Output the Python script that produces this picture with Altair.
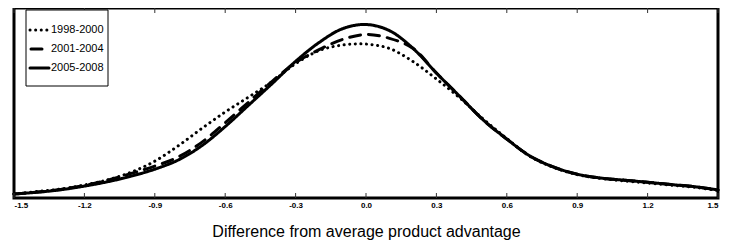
import altair as alt
import pandas as pd

periods = ["1998-2000", "2001-2004", "2005-2008"]

x_grid = [-1.5, -1.4, -1.3, -1.2, -1.1, -1.0, -0.9, -0.8, -0.7, -0.6, -0.5,
          -0.4, -0.3, -0.2, -0.1, 0.0, 0.1, 0.2, 0.3, 0.4, 0.5,
          0.6, 0.7, 0.8, 0.9, 1.0, 1.1, 1.2, 1.3, 1.4, 1.5]

dens_1998 = [0.021, 0.034, 0.047, 0.068, 0.095, 0.135, 0.192, 0.272, 0.362, 0.448, 0.526,
             0.606, 0.700, 0.768, 0.797, 0.802, 0.779, 0.711, 0.620, 0.521, 0.411,
             0.310, 0.216, 0.159, 0.122, 0.102, 0.089, 0.078, 0.067, 0.056, 0.039]

dens_2001 = [0.021, 0.031, 0.045, 0.066, 0.093, 0.128, 0.166, 0.214, 0.290, 0.392, 0.500,
             0.608, 0.705, 0.773, 0.826, 0.852, 0.832, 0.780, 0.651, 0.529, 0.406,
             0.307, 0.218, 0.161, 0.124, 0.104, 0.093, 0.082, 0.070, 0.059, 0.042]

dens_2005 = [0.021, 0.030, 0.043, 0.062, 0.085, 0.114, 0.150, 0.198, 0.272, 0.372, 0.484,
             0.596, 0.712, 0.810, 0.882, 0.904, 0.872, 0.780, 0.651, 0.529, 0.406,
             0.307, 0.218, 0.161, 0.124, 0.104, 0.093, 0.082, 0.070, 0.059, 0.042]

tick_values = [-1.5, -1.2, -0.9, -0.6, -0.3, 0.0, 0.3, 0.6, 0.9, 1.2, 1.5]
axis_title = "Difference from average product advantage"
dash_patterns = [[0.1, 5.5], [11, 8], [1, 0]]

rows = []
for p, d in zip(periods, [dens_1998, dens_2001, dens_2005]):
    for xv, yv in zip(x_grid, d):
        rows.append({"period": p, "x": xv, "density": yv})
df = pd.DataFrame(rows)
tdf = pd.DataFrame({"tick": tick_values})
one = pd.DataFrame({"a": [0]})

sans = "'Liberation Sans', Arial, sans-serif"

xscale = alt.Scale(domain=[-1.5, 1.5], nice=False, zero=False)
yscale = alt.Scale(domain=[0, 0.99], nice=False, zero=False)
dash_scale = alt.Scale(domain=periods, range=dash_patterns)

xaxis = alt.Axis(values=tick_values, format=".1f",
                 labelExpr="replace(datum.label, '\u2212', '-')",
                 title=axis_title, ticks=False, domain=False, grid=False,
                 labelFont=sans, labelFontSize=8, labelFontWeight="bold",
                 labelColor="black", labelPadding=3, labelFlush=True,
                 titleFont=sans, titleFontSize=16,
                 titleFontWeight="normal", titleColor="black", titlePadding=14)

lines = alt.Chart(df).mark_line(color="black", strokeWidth=3, strokeCap="round",
                                interpolate="catmull-rom").encode(
    x=alt.X("x:Q", scale=xscale, axis=xaxis),
    y=alt.Y("density:Q", scale=yscale, axis=None),
    strokeDash=alt.StrokeDash("period:N", scale=dash_scale, legend=None),
    detail="period:N",
)

bottom_ticks = alt.Chart(tdf).mark_rule(color="#333", strokeWidth=1).encode(
    x=alt.X("tick:Q", scale=xscale, axis=xaxis),
    y=alt.value(190), y2=alt.value(185),
)
top_ticks = alt.Chart(tdf).mark_rule(color="#333", strokeWidth=1).encode(
    x=alt.X("tick:Q", scale=xscale, axis=xaxis),
    y=alt.value(0), y2=alt.value(5),
)

legend_box = alt.Chart(one).mark_rect(fill="white", stroke="black", strokeWidth=1).encode(
    x=alt.value(12), x2=alt.value(94), y=alt.value(2), y2=alt.value(78),
)

row_y = [22, 41, 60]
sym_x = [(16, 34), (17, 29), (16, 35)]
legend_layers = [legend_box]
for p, dash, ry, (sx1, sx2) in zip(periods, dash_patterns, row_y, sym_x):
    legend_layers.append(
        alt.Chart(one).mark_rule(color="black", strokeWidth=3, strokeCap="round",
                                 strokeDash=dash).encode(
            x=alt.value(sx1), x2=alt.value(sx2), y=alt.value(ry))
    )
    legend_layers.append(
        alt.Chart(pd.DataFrame({"label": [p]})).mark_text(
            align="left", baseline="middle", font=sans, fontSize=11, color="black").encode(
            x=alt.value(37), y=alt.value(ry), text="label:N")
    )

chart = alt.layer(lines, bottom_ticks, top_ticks, *legend_layers).properties(
    width=704, height=190,
    autosize=alt.AutoSizeParams(type="none"),
    padding={"left": 6, "top": 0, "right": 12, "bottom": 51},
).configure_view(stroke="black", strokeWidth=3)

chart.save("out.html", embed_options={"renderer": "svg", "actions": False})
